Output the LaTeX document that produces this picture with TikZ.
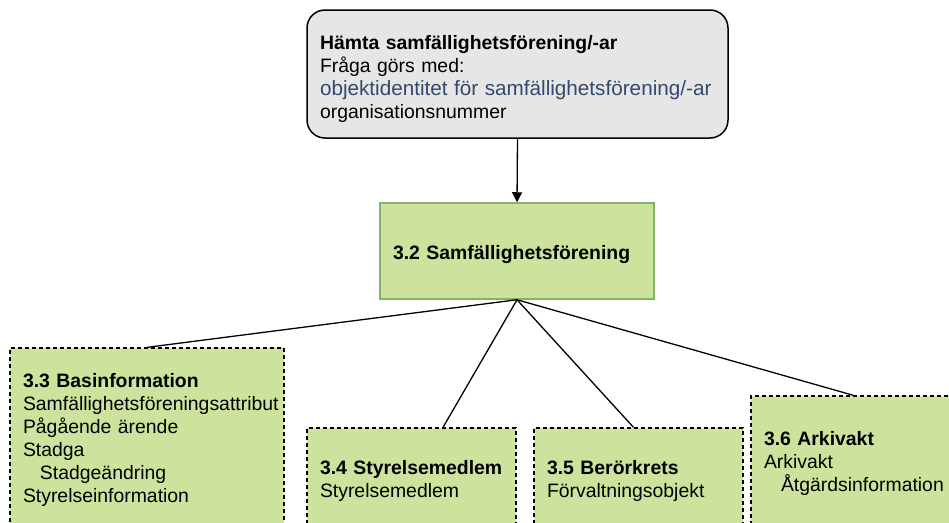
\documentclass[tikz,border=0pt]{standalone}
\usepackage{fontspec}
\setmainfont{Liberation Sans}
\usetikzlibrary{arrows.meta}

\definecolor{querygrey}{RGB}{230,230,230}
\definecolor{partgreen}{RGB}{205,226,156}
\definecolor{maingreenline}{RGB}{130,179,102}
\definecolor{idblue}{RGB}{52,73,110}

\tikzset{
  boxtext/.style={font=\fontsize{19.4}{23}\selectfont, align=left, inner xsep=13pt, inner ysep=0pt,
    execute at begin node={\rule{0pt}{20.5pt}}},
  querybox/.style={boxtext, draw, fill=querygrey, rounded corners=18pt, line width=1.5pt,
    execute at begin node={\rule{0pt}{23.5pt}}},
  mainbox/.style={boxtext, draw=maingreenline, fill=partgreen, line width=1.5pt},
  partbox/.style={boxtext, draw, fill=partgreen, line width=1.3pt, dash pattern=on 4pt off 3pt},
  link/.style={line width=1.3pt},
}

\begin{document}
\begin{tikzpicture}[x=1pt,y=1pt,yscale=-1]
\useasboundingbox (0,0) rectangle (949,522);
\clip (0,0) rectangle (949,522);

%Shape: Rounded Rect [query]
\node [querybox, text width=395pt, minimum height=128pt] (query) at (517.5,74)
  {\textbf{Hämta samfällighetsförening/-ar}\\Fråga görs med:\\{\fontsize{20.7}{23}\selectfont\textcolor{idblue}{objektidentitet för samfällighetsförening/-ar}}\\organisationsnummer};

%Shape: Rectangle [3.2]
\node [mainbox, text width=248pt, minimum height=96pt] (samf) at (517,251)
  {\textbf{3.2 Samfällighetsförening}};

%Shape: Rectangle [3.3 - 3.6]
\node [partbox, text width=248pt, minimum height=178pt] (basinfo) at (147,437)
  {\textbf{3.3 Basinformation}\\Samfällighetsföreningsattribut\\Pågående ärende\\Stadga\\\hspace*{17pt}Stadgeändring\\Styrelseinformation};
\node [partbox, text width=183pt, minimum height=99pt] (styrelse) at (411.5,477.5)
  {\textbf{3.4 Styrelsemedlem}\\Styrelsemedlem};
\node [partbox, text width=183pt, minimum height=99pt] (berork) at (638.5,477.5)
  {\textbf{3.5 Berörkrets}\\Förvaltningsobjekt};
\node [partbox, text width=183pt, minimum height=129pt] (arkiv) at (855.5,460.5)
  {\textbf{3.6 Arkivakt}\\Arkivakt\\\hspace*{17pt}Åtgärdsinformation};

%Straight Lines
\draw [link, -{Triangle[length=10pt,width=10pt]}] (query.south) -- (samf.north);
\draw [link] (samf.south) -- (basinfo.north);
\draw [link] (samf.south) -- ([xshift=31.5pt]styrelse.north);
\draw [link] (samf.south) -- ([xshift=-5pt]berork.north);
\draw [link] (samf.south) -- ([xshift=-2pt]arkiv.north);

\end{tikzpicture}
\end{document}
